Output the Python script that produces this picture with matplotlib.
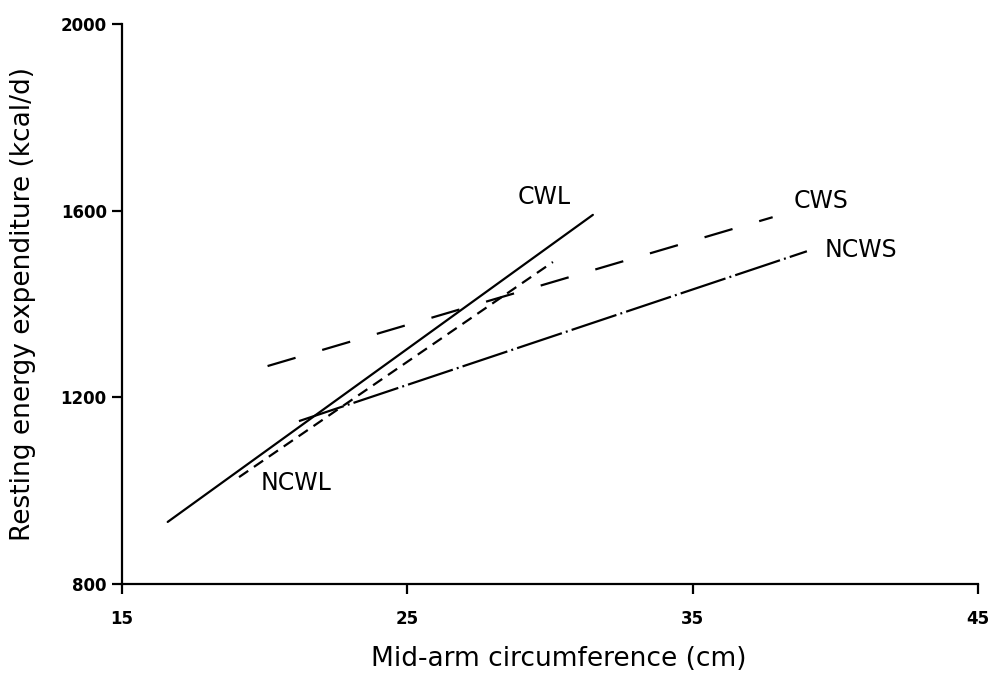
import matplotlib
matplotlib.use("Agg")
import matplotlib.pyplot as plt

# --------------------------- DATA ---------------------------

# regression lines (cm, kcal/d)
cwl_x = [16.6, 31.5]
cwl_y = [933, 1591]
ncwl_x = [19.1, 30.1]
ncwl_y = [1029, 1490]
cws_x = [20.1, 37.8]
cws_y = [1267, 1586]
ncws_x = [21.2, 39.0]
ncws_y = [1149, 1513]

series_names = ["CWL", "NCWL", "CWS", "NCWS"]
label_pos = {"CWL": (29.8, 1629), "NCWL": (21.1, 1016),
             "CWS": (39.5, 1621), "NCWS": (40.9, 1516)}

x_ticks = [15, 25, 35, 45]
y_ticks = [800, 1200, 1600, 2000]

# --------------------------- PLOT ---------------------------

plt.rcParams['font.family'] = ['DejaVu Sans']
plt.rcParams['lines.scale_dashes'] = False

fig = plt.figure(figsize=(9.93, 6.80), dpi=100)
ax = fig.add_axes([0.1229, 0.1412, 0.8621, 0.8235])

lw = 1.6
ax.plot(cwl_x, cwl_y, color='black', lw=lw, solid_capstyle='round')
ax.plot(ncwl_x, ncwl_y, color='black', lw=lw, dashes=(8, 5))
ax.plot(cws_x, cws_y, color='black', lw=lw, dashes=(21, 20))
ax.plot(ncws_x, ncws_y, color='black', lw=lw, dashes=(34, 3, 1.4, 3))

for name in series_names:
    x, y = label_pos[name]
    ax.text(x, y, name, fontsize=17, ha='center', va='center')

ax.set_xlim(15, 45)
ax.set_ylim(800, 2000)
ax.set_xticks(x_ticks)
ax.set_yticks(y_ticks)
ax.set_xticklabels([str(t) for t in x_ticks], fontsize=12, fontweight='bold')
ax.set_yticklabels([str(t) for t in y_ticks], fontsize=12, fontweight='bold')

for side in ['top', 'right']:
    ax.spines[side].set_visible(False)
for side in ['left', 'bottom']:
    ax.spines[side].set_linewidth(1.6)
ax.tick_params(direction='out', length=7, width=1.6)
ax.tick_params(axis='x', pad=12)
ax.tick_params(axis='y', pad=4)

ax.set_xlabel("Mid-arm circumference (cm)", fontsize=19)
ax.set_ylabel("Resting energy expenditure (kcal/d)", fontsize=19)
ax.xaxis.set_label_coords(0.51, -0.11)
ax.yaxis.set_label_coords(-0.1, 0.5)

fig.savefig("out.png", dpi=100, facecolor='white')
